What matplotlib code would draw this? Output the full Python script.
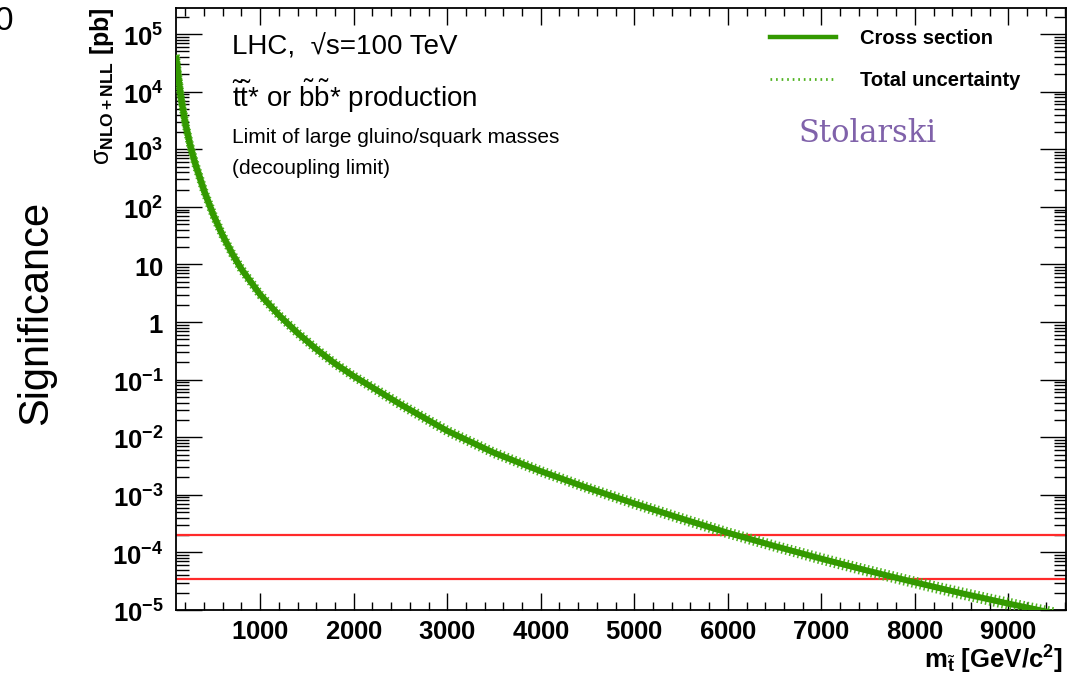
import numpy as np
import matplotlib
matplotlib.use("Agg")
import matplotlib.pyplot as plt
import matplotlib.transforms as mtransforms
from matplotlib.lines import Line2D
from matplotlib.ticker import FixedLocator, MultipleLocator, LogLocator, NullFormatter

plt.rcParams["font.family"] = ["Liberation Sans", "DejaVu Sans"]
plt.rcParams["mathtext.fontset"] = "custom"
plt.rcParams["mathtext.rm"] = "Liberation Sans"
plt.rcParams["mathtext.it"] = "Liberation Sans"
plt.rcParams["mathtext.bf"] = "Liberation Sans:bold"

# stop-pair cross section at 100 TeV, NLO+NLL [pb]
mass = [100, 150, 200, 250, 300, 400, 500, 600, 700, 800, 1000, 1200, 1400,
        1600, 1800, 2000, 2500, 3000, 3500, 4000, 4500, 5000, 5500, 6000,
        6500, 7000, 7500, 8000, 8500, 9000, 9500]
xsec = [4.17e4, 8.51e3, 2.82e3, 1.20e3, 603, 191, 72.4, 31.6, 15.5, 8.3, 3.0,
        1.32, 0.646, 0.339, 0.19, 0.115, 0.0372, 0.0129, 5.37e-3, 2.57e-3,
        1.32e-3, 7.08e-4, 3.89e-4, 2.19e-4, 1.29e-4, 7.76e-5, 4.79e-5,
        3.02e-5, 1.95e-5, 1.29e-5, 8.7e-6]
# relative total uncertainty
unc = [0.05, 0.05, 0.05, 0.05, 0.05, 0.05, 0.05, 0.05, 0.05, 0.05, 0.05,
       0.05, 0.05, 0.05, 0.05, 0.05, 0.06, 0.06, 0.06, 0.06, 0.06, 0.07,
       0.07, 0.07, 0.07, 0.08, 0.08, 0.08, 0.09, 0.09, 0.09]

# horizontal reference levels
levels = [2.0e-4, 3.5e-5]

ytick_vals = [1e-5, 1e-4, 1e-3, 1e-2, 1e-1, 1, 10, 1e2, 1e3, 1e4, 1e5]
ytick_labels = [r"$\mathbf{10^{-5}}$", r"$\mathbf{10^{-4}}$", r"$\mathbf{10^{-3}}$",
                r"$\mathbf{10^{-2}}$", r"$\mathbf{10^{-1}}$", r"$\mathbf{1}$",
                r"$\mathbf{10}$", r"$\mathbf{10^{2}}$", r"$\mathbf{10^{3}}$",
                r"$\mathbf{10^{4}}$", r"$\mathbf{10^{5}}$"]
xtick_vals = [1000, 2000, 3000, 4000, 5000, 6000, 7000, 8000, 9000]

green = "#339900"
light_green = "#4fb320"

fig = plt.figure(figsize=(10.76, 6.8), dpi=100)
W, H = 1076, 680
ax = fig.add_axes([176 / W, 1 - 610 / H, (1065.5 - 176) / W, (610 - 7.5) / H])

m = np.array(mass)
s = np.array(xsec)
u = np.array(unc)

ax.plot(m, s * (1 + u), color=light_green, lw=5.5, ls=(0, (0.2, 0.35)),
        dash_capstyle="butt", zorder=3)
ax.plot(m, s * (1 - u), color=light_green, lw=5.5, ls=(0, (0.2, 0.35)),
        dash_capstyle="butt", zorder=3)
ax.plot(m, s, color=green, lw=4.4, zorder=4, solid_capstyle="butt")

for lev in levels:
    ax.axhline(lev, color="#ff2a2a", lw=1.6, zorder=2)

ax.set_yscale("log")
ax.set_xlim(100, 9610)
ax.set_ylim(1e-5, 2.9e5)

ax.yaxis.set_major_locator(FixedLocator(ytick_vals))
ax.set_yticklabels(ytick_labels)
ax.yaxis.set_minor_locator(LogLocator(base=10, subs=np.arange(2, 10), numticks=30))
ax.yaxis.set_minor_formatter(NullFormatter())
ax.xaxis.set_major_locator(FixedLocator(xtick_vals))
ax.set_xticklabels([r"$\mathbf{%d}$" % v for v in xtick_vals])
ax.xaxis.set_minor_locator(MultipleLocator(200))

ax.tick_params(which="both", direction="in", top=True, right=True, width=1.0,
               color="black")
ax.tick_params(axis="x", which="major", length=12, labelsize=18.5, pad=7)
ax.tick_params(axis="x", which="minor", length=6)
ax.tick_params(axis="y", which="major", length=19, labelsize=18.5, pad=9)
ax.tick_params(axis="y", which="minor", length=9)
for sp in ax.spines.values():
    sp.set_linewidth(1.3)

# ROOT-style: whole label box centred on the tick, exponent included
shift = mtransforms.ScaledTranslation(0, -3 / 72, fig.dpi_scale_trans)
for lab in ax.get_yticklabels():
    lab.set_verticalalignment("center")
    lab.set_transform(lab.get_transform() + shift)

# axis titles
fig.text(1063 / W, 1 - 669 / H, r"m$_{\tilde{\mathbf{t}}}$ [GeV/c$^{\mathbf{2}}$]",
         ha="right", va="baseline", fontsize=18.5, fontweight="bold")
fig.text(102 / W, 1 - 7 / H, r"$\sigma_{\mathbf{NLO+NLL}}$ [pb]", rotation=90,
         ha="center", va="top", fontsize=18, fontweight="bold")
fig.text(36 / W, 1 - 313 / H, "Significance", rotation=90, ha="center",
         va="center", fontsize=30)
fig.text(13 / W, 1 - 22 / H, "0", ha="right", va="center", fontsize=24)

# annotations (pixel positions from the top-left corner)
notes = [
    (232, 55, "LHC,  \u221as=100 TeV", 20),
    (232, 107, r"$\tilde{\mathrm{t}}\tilde{\mathrm{t}}$* or "
               r"$\tilde{\mathrm{b}}\tilde{\mathrm{b}}$* production", 20),
    (232, 143, "Limit of large gluino/squark masses", 15),
    (232, 174, "(decoupling limit)", 15),
]
for px, py, txt, size in notes:
    fig.text(px / W, 1 - py / H, txt, fontsize=size, va="baseline")
fig.text(868 / W, 1 - 133 / H, "Stolarski", fontsize=22, color="#8062aa",
         ha="center", va="center", family="DejaVu Serif")

handles = [Line2D([], [], color=green, lw=3.2),
           Line2D([], [], color=light_green, lw=2.0, ls=(0, (0.6, 1.4)))]
leg = fig.legend(handles, ["Cross section", "Total uncertainty"],
                 loc="upper left", bbox_to_anchor=(770 / W, 1 - 29 / H),
                 frameon=False, borderpad=0, borderaxespad=0,
                 handlelength=3.3, handletextpad=1.15, labelspacing=1.15,
                 prop={"weight": "bold", "size": 14.5})

fig.savefig("out.png", dpi=100)
